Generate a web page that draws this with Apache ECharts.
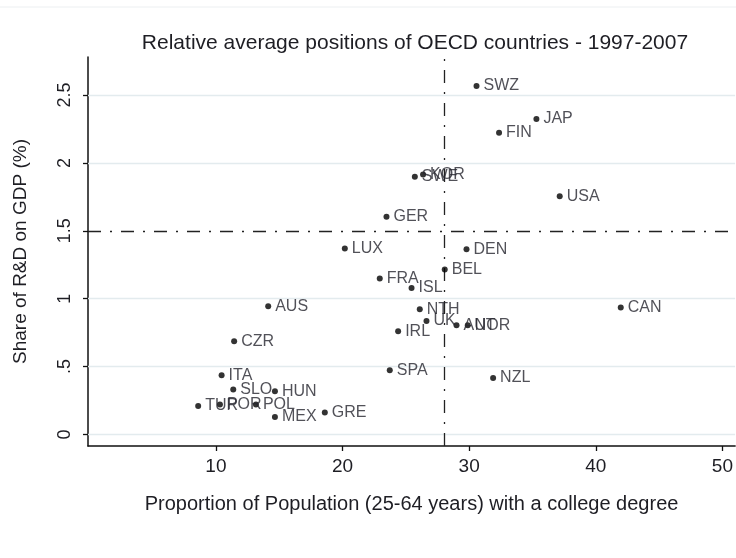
<!DOCTYPE html>
<html>
<head>
<meta charset="utf-8">
<script src="https://cdn.jsdelivr.net/npm/echarts@6/dist/echarts.min.js"></script>
<style>html,body{margin:0;padding:0;background:#fff;}#c{width:736px;height:558px;}</style>
</head>
<body>
<div id="c"></div>
<script>
const countries = ['SWZ','JAP','FIN','KOR','SWE','USA','GER','LUX','DEN','BEL','FRA','ISL','NTH','UK','AUT','NOR','IRL','SPA','NZL','CAN','AUS','CZR','ITA','SLO','HUN','TUR','POR','POL','MEX','GRE'];
const college = [30.58,35.31,32.36,26.36,25.71,37.15,23.47,20.18,29.79,28.07,22.94,25.45,26.10,26.63,29.00,29.89,24.39,23.73,31.89,41.97,14.13,11.44,10.45,11.37,14.66,8.60,10.32,13.16,14.66,18.60];
const rdShare = [2.566,2.323,2.222,1.915,1.897,1.755,1.603,1.369,1.364,1.215,1.148,1.079,0.922,0.836,0.804,0.804,0.760,0.472,0.415,0.934,0.944,0.686,0.435,0.330,0.317,0.209,0.221,0.221,0.128,0.162];
const xTicks = [10,20,30,40,50];
const yTicks = [0,0.5,1,1.5,2,2.5];
const yTickLabels = ['0','.5','1','1.5','2','2.5'];
const meanCollege = 28;
const meanRD = 1.5;

const font = '"Liberation Sans", Arial, sans-serif';
const chart = echarts.init(document.getElementById('c'), null, {renderer:'canvas'});
const dashDot = {color:'#222', width:1.3, type:[13,9,2,9]};
chart.setOption({
  animation:false,
  backgroundColor:'#fff',
  graphic:[{type:'line', shape:{x1:0,y1:7,x2:736,y2:7}, style:{stroke:'#eceff1', lineWidth:1}, silent:true}],
  title:{text:'Relative average positions of OECD countries - 1997-2007', left:410, textAlign:'center', top:28,
    textStyle:{fontFamily:font, fontSize:21, fontWeight:'normal', color:'#1e1e24'}},
  grid:{left:88, right:0, top:57, bottom:112},
  xAxis:{type:'value', min:-0.1, max:51,
    name:'Proportion of Population (25-64 years) with a college degree', nameLocation:'middle', nameGap:48,
    nameTextStyle:{fontFamily:font, fontSize:20, color:'#1e1e24'},
    axisLine:{show:true, onZero:false, lineStyle:{color:'#111', width:1.5}},
    axisTick:{show:true, length:5, customValues:xTicks, lineStyle:{color:'#111', width:1.3}},
    axisLabel:{customValues:xTicks, margin:11, fontFamily:font, fontSize:19, color:'#1e1e24'},
    splitLine:{show:false}},
  yAxis:{type:'value', min:-0.0855, max:2.78,
    name:'Share of R&D on GDP (%)', nameLocation:'middle', nameGap:58, nameRotate:90,
    nameTextStyle:{fontFamily:font, fontSize:19, color:'#1e1e24'},
    axisLine:{show:true, onZero:false, lineStyle:{color:'#111', width:1.5}},
    axisTick:{show:true, length:5, customValues:yTicks, lineStyle:{color:'#111', width:1.3}},
    axisLabel:{customValues:yTicks, rotate:90, margin:14, fontFamily:font, fontSize:18, color:'#1e1e24',
      formatter:v=>{const i=yTicks.indexOf(v);return i>=0?yTickLabels[i]:'';}},
    splitLine:{show:false}},
  series:[
    {type:'scatter', data:[], silent:true,
     markLine:{silent:true, symbol:'none', animation:false, label:{show:false},
       lineStyle:{color:'#e3ebee', width:1.3, type:'solid'},
       data:yTicks.filter(v=>v!==meanRD).map(v=>({yAxis:v}))}},
    {type:'scatter', data:[], silent:true, z:3,
     markLine:{silent:true, symbol:'none', animation:false, label:{show:false},
       lineStyle:dashDot,
       data:[{yAxis:meanRD},{xAxis:meanCollege}]}},
    {type:'scatter', z:5, symbol:'circle', symbolSize:6,
     itemStyle:{color:'#000'},
     data:countries.map((c,i)=>({name:c, value:[college[i], rdShare[i]]})),
     label:{show:true, position:'right', distance:4, formatter:p=>p.name,
       fontFamily:font, fontSize:16, color:'#26262e'}}
  ]
});
</script>
</body>
</html>
